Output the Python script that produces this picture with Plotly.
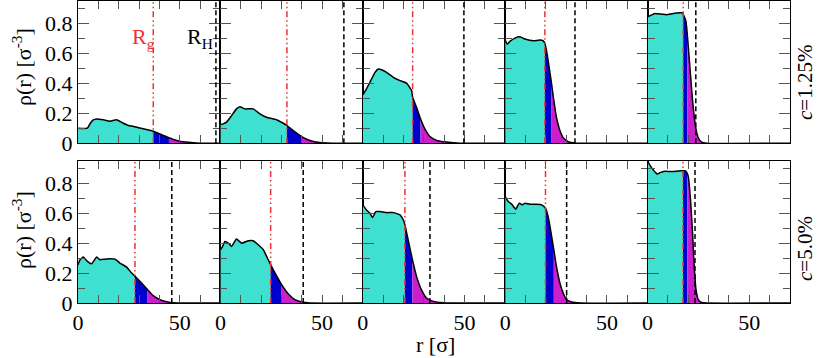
import plotly.graph_objects as go
from plotly.subplots import make_subplots

# ---- c = 1.25 % (top row), one profile per panel ----
R_A1 = [0, 4.6, 5.9, 7.5, 9.2, 12.5, 15.8, 19.0, 22.3, 24.8, 27.3, 32.2, 37.0, 42.0, 44.7, 48.6, 52.6, 56.7, 60, 70]
RHO_A1 = [0.10, 0.10, 0.13, 0.155, 0.162, 0.156, 0.147, 0.156, 0.133, 0.118, 0.112, 0.096, 0.08, 0.051, 0.036, 0.018, 0.007, 0.002, 0.0, 0.0]

R_A2 = [0, 1.4, 3.0, 5.5, 7.9, 9.6, 12.0, 16.1, 19.4, 22.7, 27.6, 30.9, 32.7, 35.8, 39.9, 44.0, 48.9, 55, 70]
RHO_A2 = [0.124, 0.129, 0.14, 0.184, 0.229, 0.244, 0.229, 0.229, 0.196, 0.173, 0.156, 0.133, 0.118, 0.084, 0.044, 0.018, 0.004, 0.0, 0.0]

R_A3 = [0, 1.8, 3.5, 6.0, 7.6, 9.2, 11.7, 15.0, 18.3, 21.6, 24.0, 24.5, 26.4, 28.4, 30.5, 33.0, 36.3, 41.2, 48, 70]
RHO_A3 = [0.322, 0.362, 0.407, 0.473, 0.496, 0.491, 0.473, 0.44, 0.418, 0.40, 0.351, 0.307, 0.24, 0.162, 0.096, 0.044, 0.018, 0.007, 0.0, 0.0]

R_A4 = [0, 1.0, 2.3, 4.8, 7.2, 9.7, 13.8, 17.0, 18.7, 19.5, 20.3, 21.6, 22.8, 23.9, 25.2, 26.9, 28.5, 31.0, 35, 70]
RHO_A4 = [0.689, 0.662, 0.68, 0.702, 0.711, 0.696, 0.684, 0.689, 0.684, 0.667, 0.618, 0.507, 0.396, 0.284, 0.173, 0.084, 0.036, 0.009, 0.0, 0.0]

R_A5 = [0, 1.1, 3.6, 6.9, 9.3, 12.6, 15.9, 17.2, 17.5, 18.8, 19.5, 20.8, 22.1, 23.6, 24.9, 26.5, 29, 70]
RHO_A5 = [0.844, 0.851, 0.867, 0.862, 0.858, 0.867, 0.871, 0.871, 0.862, 0.818, 0.729, 0.507, 0.284, 0.107, 0.036, 0.007, 0.0, 0.0]

RG_A = [37.0, 32.7, 24.5, 19.5, 17.5]
RB_A = [44.7, 39.9, 28.4, 22.8, 19.5]
RH_A = [67.8, 60.7, 49.7, 34.3, 23.7]

# ---- c = 5.0 % (bottom row) ----
R_B1 = [0, 1.0, 2.6, 4.6, 6.7, 9.2, 10.8, 13.3, 15.7, 18.2, 20.6, 23.9, 26.4, 28.0, 30.5, 34.2, 37.0, 40.3, 43.6, 46.9, 52, 70]
RHO_B1 = [0.256, 0.289, 0.307, 0.278, 0.262, 0.307, 0.289, 0.293, 0.296, 0.293, 0.267, 0.24, 0.20, 0.178, 0.144, 0.089, 0.049, 0.022, 0.009, 0.002, 0.0, 0.0]

R_B2 = [0, 1.1, 2.2, 3.9, 5.5, 7.9, 10.4, 13.7, 16.1, 18.6, 21.1, 23.5, 24.7, 27.3, 30.1, 33.3, 36.6, 39.9, 44, 70]
RHO_B2 = [0.356, 0.378, 0.411, 0.40, 0.378, 0.427, 0.40, 0.416, 0.416, 0.389, 0.356, 0.289, 0.256, 0.189, 0.122, 0.062, 0.022, 0.007, 0.0, 0.0]

R_B3 = [0, 1.8, 3.5, 4.8, 6.4, 8.4, 11.7, 15.0, 18.3, 19.9, 20.7, 22.3, 24.4, 26.4, 28.8, 31.3, 34.6, 39.5, 45, 70]
RHO_B3 = [0.656, 0.622, 0.60, 0.571, 0.611, 0.611, 0.604, 0.604, 0.589, 0.556, 0.522, 0.422, 0.289, 0.178, 0.089, 0.033, 0.011, 0.002, 0.0, 0.0]

R_B4 = [0, 1.5, 3.1, 5.2, 6.9, 8.5, 9.7, 12.1, 15.4, 17.9, 19.8, 21.1, 22.3, 23.9, 25.2, 26.9, 28.5, 30.2, 32.6, 37, 70]
RHO_B4 = [0.711, 0.678, 0.662, 0.627, 0.667, 0.656, 0.667, 0.66, 0.66, 0.656, 0.633, 0.578, 0.489, 0.356, 0.244, 0.133, 0.067, 0.022, 0.007, 0.0, 0.0]

R_B5 = [0, 1.1, 2.8, 4.8, 6.1, 8.5, 11.8, 15.1, 17.4, 18.4, 19.5, 20.0, 21.1, 22.1, 22.9, 23.8, 24.9, 26.5, 29, 70]
RHO_B5 = [0.949, 0.922, 0.889, 0.862, 0.871, 0.88, 0.878, 0.882, 0.884, 0.884, 0.866, 0.844, 0.689, 0.467, 0.244, 0.089, 0.022, 0.004, 0.0, 0.0]

RG_B = [28.0, 24.7, 20.7, 19.8, 17.4]
RB_B = [34.2, 30.1, 24.4, 23.9, 19.5]
RH_B = [46.1, 40.7, 33.0, 30.2, 23.3]

ROW_LABELS = ["<i>c</i>=1.25%", "<i>c</i>=5.0%"]

profiles = [
    [(R_A1, RHO_A1), (R_A2, RHO_A2), (R_A3, RHO_A3), (R_A4, RHO_A4), (R_A5, RHO_A5)],
    [(R_B1, RHO_B1), (R_B2, RHO_B2), (R_B3, RHO_B3), (R_B4, RHO_B4), (R_B5, RHO_B5)],
]
radii = [(RG_A, RB_A, RH_A), (RG_B, RB_B, RH_B)]

FONT = "Liberation Serif, Times New Roman, serif"
TURQ, BLUE, MAG = "#40E0D0", "#0000CD", "#CC1FCC"

W, H = 817, 358
ML, MR, MT, MB = 78, 27, 1, 55
PW, PH = W - ML - MR, H - MT - MB

fig = make_subplots(rows=2, cols=5, horizontal_spacing=0, vertical_spacing=17.7 / PH)

for i in range(2):
    rg_l, rb_l, rh_l = radii[i]
    for j in range(5):
        r, rho = profiles[i][j]
        rg, rb, rh = rg_l[j], rb_l[j], rh_l[j]
        segs = [
            ([x for x in r if x <= rg], TURQ),
            ([x for x in r if rg <= x <= rb], BLUE),
            ([x for x in r if x >= rb], MAG),
        ]
        for xs, col in segs:
            ys = [rho[r.index(x)] for x in xs]
            fig.add_trace(go.Scatter(x=xs, y=ys, mode="lines", fill="tozeroy",
                                     fillcolor=col, line=dict(width=0, color=col),
                                     showlegend=False, hoverinfo="skip"),
                          row=i + 1, col=j + 1)
        fig.add_trace(go.Scatter(x=r, y=rho, mode="lines",
                                 line=dict(color="black", width=1.5, shape="spline", smoothing=0.4),
                                 showlegend=False),
                      row=i + 1, col=j + 1)
        fig.add_vline(x=rg, line=dict(color="#F03030", width=1.5,
                                      dash="6px,3px,1.5px,3px,1.5px,3px"),
                      row=i + 1, col=j + 1)
        fig.add_vline(x=rh, line=dict(color="black", width=1.5, dash="5px,3px"),
                      row=i + 1, col=j + 1)

fig.update_xaxes(range=[0, 70], tick0=0, dtick=50, ticks="inside", ticklen=8,
                 tickcolor="#555", minor=dict(dtick=10, ticks="inside", ticklen=8, tickcolor="#555"),
                 showline=True, linecolor="black", linewidth=1.1, mirror="allticks",
                 showgrid=False, zeroline=False, showticklabels=False, automargin=False,
                 tickfont=dict(family=FONT, size=22, color="black"))
fig.update_xaxes(showticklabels=True, row=2)
fig.update_yaxes(range=[0, 0.95], tick0=0, dtick=0.2, ticks="inside", ticklen=11,
                 tickcolor="#555", minor=dict(dtick=0.1, ticks="inside", ticklen=7, tickcolor="#555"),
                 showline=True, linecolor="black", linewidth=1.1, mirror="allticks",
                 showgrid=False, zeroline=False, showticklabels=False, automargin=False,
                 tickfont=dict(family=FONT, size=22, color="black"))
fig.update_yaxes(showticklabels=True, col=1)


def px_x(p):
    return (p - ML) / PW


def px_y(p):
    return (H - MB - p) / PH


ann = [
    dict(x=px_x(130), y=px_y(38), text="R<sub>g</sub>", font_color="#F03030", xanchor="left", size=22),
    dict(x=px_x(185), y=px_y(38), text="R<sub>H</sub>", font_color="black", xanchor="left", size=22),
    dict(x=px_x(435), y=px_y(344), text="r [σ]", font_color="black", xanchor="center", size=22),
    dict(x=px_x(22), y=px_y(67), text="ρ(r) [σ<sup>-3</sup>]", font_color="black",
         textangle=-90, xanchor="center", size=22),
    dict(x=px_x(22), y=px_y(230), text="ρ(r) [σ<sup>-3</sup>]", font_color="black",
         textangle=-90, xanchor="center", size=22),
    dict(x=px_x(805), y=px_y(82), text=ROW_LABELS[0], font_color="black",
         textangle=-90, xanchor="center", size=21),
    dict(x=px_x(805), y=px_y(248), text=ROW_LABELS[1], font_color="black",
         textangle=-90, xanchor="center", size=21),
]
for a in ann:
    fig.add_annotation(xref="paper", yref="paper", showarrow=False, yanchor="middle",
                       font=dict(family=FONT, size=a.pop("size"), color=a.pop("font_color")), **a)

fig.update_layout(width=W, height=H, margin=dict(l=ML, r=MR, t=MT, b=MB, autoexpand=False),
                  plot_bgcolor="white", paper_bgcolor="white",
                  font=dict(family=FONT, size=22, color="black"))

fig.write_html("out.html", config={"displayModeBar": False},
               post_script="document.body.style.margin='0';")
